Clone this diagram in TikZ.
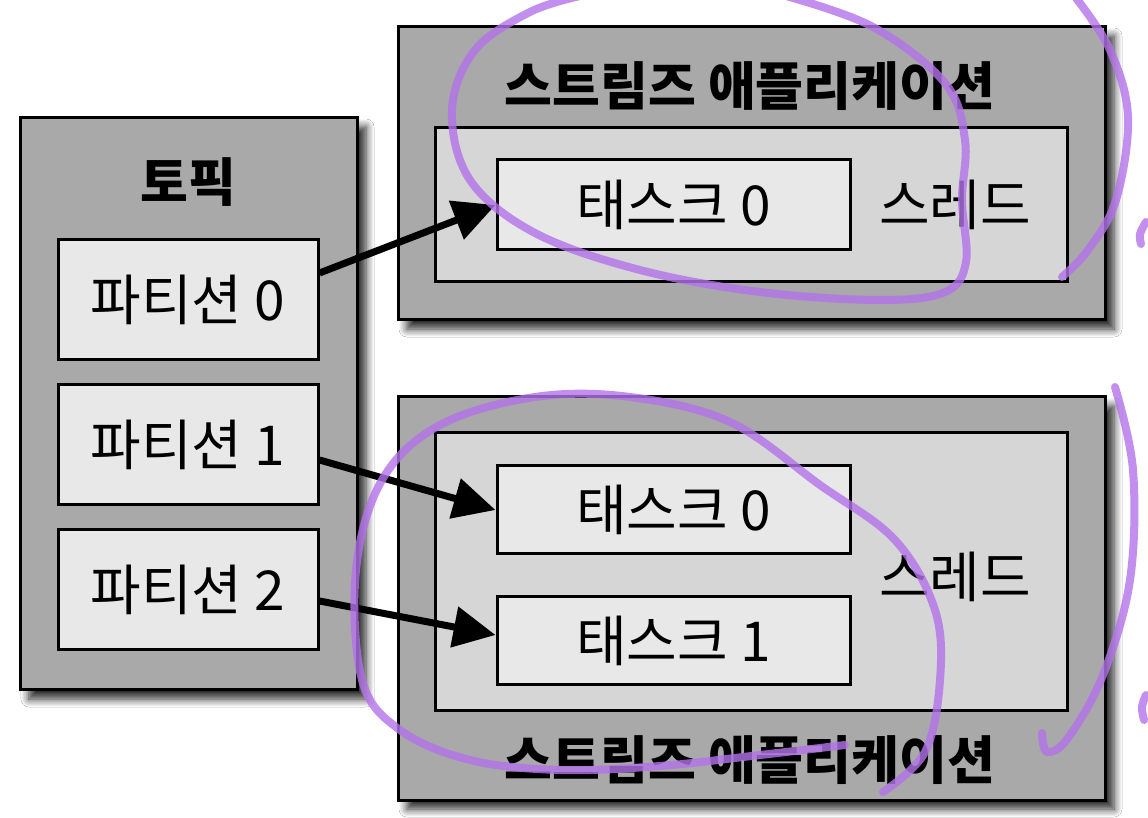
\documentclass[tikz,border=0pt]{standalone}
\usepackage{fontspec}
\setmainfont{Noto Sans CJK KR}
\usetikzlibrary{arrows.meta,shadows.blur,calc}
\begin{document}
\begin{tikzpicture}[x=0.5pt,y=-0.5pt,
  box/.style={draw=black, line width=1.5pt, inner sep=0pt},
  outerbox/.style={box, fill=outergray, blur shadow={shadow xshift=4.5pt, shadow yshift=-4.5pt, shadow blur steps=8, shadow blur radius=4pt, shadow opacity=85}},
  threadbox/.style={box, fill=threadgray},
  itembox/.style={box, fill=itemgray, font=\fontsize{27.5}{30}\selectfont},
  lbl/.style={font=\fontsize{27.5}{30}\selectfont, inner sep=0pt},
  ttl/.style={font=\fontsize{26}{30}\selectfont\bfseries, inner sep=0pt},
  feed/.style={line width=3.5pt, -{Triangle[length=21pt,width=20pt]}},
  pen/.style={draw=penviolet, line width=4pt, opacity=.8, line cap=round, line join=round}]
\pgfmathsetlengthmacro\px{0.5pt};
\definecolor{outergray}{HTML}{A9A9A9}
\definecolor{threadgray}{HTML}{D6D6D6}
\definecolor{itemgray}{HTML}{E8E8E8}
\definecolor{penviolet}{HTML}{B373EA}
\useasboundingbox[fill=white] (0,0) rectangle (1148,818);
\node[outerbox, minimum width=337*\px, minimum height=572*\px] (topic) at (188.5,404) {};
\node[ttl] (topictitle) at (188,182) {토픽};
\foreach \n/\y in {0/300,1/445,2/590}
  \node[itembox, minimum width=260*\px, minimum height=120*\px] (p\n) at (188,\y) {파티션 \n};
\node[outerbox, minimum width=707*\px, minimum height=293*\px] (appa) at (751.5,173.5) {};
\node[ttl] (appatitle) at (750,86) {스트림즈 애플리케이션};
\node[threadbox, minimum width=632*\px, minimum height=154*\px] (thra) at (751,205) {};
\node[lbl] (thralabel) at (955,205) {스레드};
\node[itembox, minimum width=353*\px, minimum height=90*\px] (ta0) at (673.5,205) {태스크 0};
\node[outerbox, minimum width=707*\px, minimum height=403*\px] (appb) at (751.5,598.5) {};
\node[ttl] (appbtitle) at (750,760) {스트림즈 애플리케이션};
\node[threadbox, minimum width=632*\px, minimum height=278*\px] (thrb) at (751,572) {};
\node[lbl] (thrblabel) at (955,577) {스레드};
\node[itembox, minimum width=353*\px, minimum height=88*\px] (tb0) at (673.5,510) {태스크 0};
\node[itembox, minimum width=353*\px, minimum height=88*\px] (tb1) at (673.5,641) {태스크 1};
\draw[feed] ($(p0.east)+(0,-27)$) -- (ta0.west);
\draw[feed] ($(p1.east)+(0,15)$) -- (tb0.west);
\draw[feed] ($(p2.east)+(0,11)$) -- ($(tb1.west)+(0,-6)$);
\draw[pen] plot[smooth, tension=.6] coordinates {(786,-4) (873,27) (945,83) (965,140) (962,200) (966,262) (945,292) (880,300) (760,292) (640,270) (535,233) (470,180) (452,110) (475,50) (530,12) (580,-4)};
\draw[pen] plot[smooth, tension=.6] coordinates {(1076,-2) (1110,50) (1128,117) (1116,200) (1088,250) (1062,277)};
\draw[pen] plot[smooth, tension=.6] coordinates {(1146,222) (1140,234) (1141,244)};
\draw[pen] plot[smooth, tension=.6] coordinates {(883,792) (925,752) (940,680) (935,610) (895,540) (820,485) (730,422) (630,397) (535,397) (440,425) (382,480) (356,570) (362,680) (400,730) (470,760) (560,770) (660,766) (760,755) (845,745)};
\draw[pen] plot[smooth, tension=.6] coordinates {(1115,387) (1133,470) (1130,580) (1103,675) (1068,738) (1047,752) (1042,733)};
\draw[pen] plot[smooth, tension=.6] coordinates {(1146,695) (1142,707) (1144,720)};
\end{tikzpicture}
\end{document}
